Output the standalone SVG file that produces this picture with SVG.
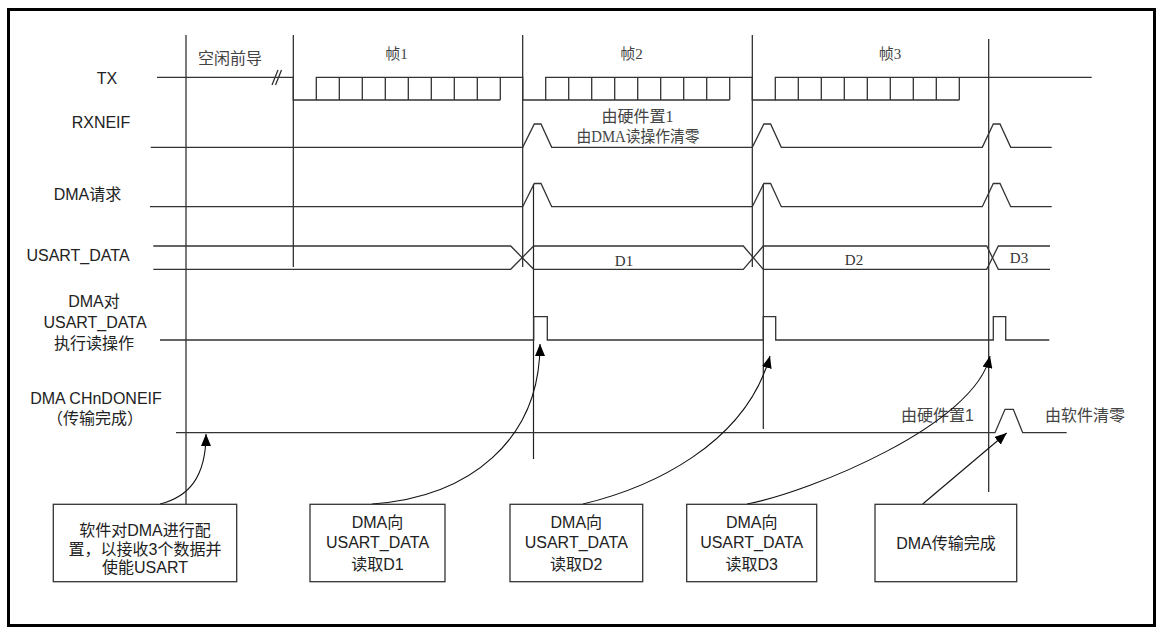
<svg xmlns="http://www.w3.org/2000/svg" width="1158" height="628" viewBox="0 0 1158 628">
<style>
.sig{fill:none;stroke:#333;stroke-width:1.3}
.grid{fill:none;stroke:#222;stroke-width:1.2}
.box{fill:#fff;stroke:#333;stroke-width:1.3}
.lbl{font-family:"Liberation Sans","Noto Sans CJK SC",sans-serif;font-size:16px;fill:#222;text-anchor:middle}
.ser{font-family:"Liberation Serif","Noto Sans CJK SC",serif;font-size:15px;fill:#444;text-anchor:middle}
.conn{fill:none;stroke:#111;stroke-width:1.1}
</style>
<defs>
<marker id="ah" viewBox="0 0 12 10" refX="12" refY="5" markerWidth="12" markerHeight="10" markerUnits="userSpaceOnUse" orient="auto">
<path d="M0,0 L12,5 L0,10 Z" fill="#000"/>
</marker>
</defs>
<rect x="0" y="0" width="1158" height="628" fill="#fff"/>
<rect id="frame" x="8.5" y="9.5" width="1146" height="616" fill="none" stroke="#000" stroke-width="3"/>

<g id="grid-lines">
<line class="grid" x1="186" y1="35" x2="186" y2="504"/>
<line class="grid" x1="293.3" y1="35" x2="293.3" y2="267"/>
<line class="grid" x1="522.7" y1="35" x2="522.7" y2="267"/>
<line class="grid" x1="533.5" y1="184" x2="533.5" y2="459"/>
<line class="grid" x1="752.3" y1="35" x2="752.3" y2="267"/>
<line class="grid" x1="763.3" y1="184" x2="763.3" y2="429"/>
<line class="grid" x1="988.7" y1="39" x2="988.7" y2="492"/>
</g>

<g id="top-labels">
<text class="lbl" x="230" y="64" style="fill:#444">空闲前导</text>
<text class="ser" x="396.5" y="59">帧1</text>
<text class="ser" x="631.5" y="59">帧2</text>
<text class="ser" x="890" y="59">帧3</text>
</g>

<g id="signal-labels">
<text class="lbl" x="107" y="84">TX</text>
<text class="lbl" x="101" y="128">RXNEIF</text>
<text class="lbl" x="87.5" y="200">DMA请求</text>
<text class="lbl" x="78" y="261">USART_DATA</text>
<text class="lbl" x="94" y="307">DMA对</text>
<text class="lbl" x="95" y="328">USART_DATA</text>
<text class="lbl" x="94" y="349">执行读操作</text>
<text class="lbl" x="96" y="404">DMA CHnDONEIF</text>
<text class="lbl" x="95" y="424">（传输完成）</text>
</g>

<g id="tx">
<path class="sig" d="M157,77.3 H293.3 V100 H316.3 V77.3 H522.7 V100 H545.7 V77.3 H752.3 V100 H775.3 V77.3 H1091.7"/>
<path class="sig" d="M316.3,100 H500.3 M339.3,77.3 V100 M362.3,77.3 V100 M385.3,77.3 V100 M408.3,77.3 V100 M431.3,77.3 V100 M454.3,77.3 V100 M477.3,77.3 V100 M500.3,77.3 V100"/>
<path class="sig" d="M545.7,100 H729.7 M568.7,77.3 V100 M591.7,77.3 V100 M614.7,77.3 V100 M637.7,77.3 V100 M660.7,77.3 V100 M683.7,77.3 V100 M706.7,77.3 V100 M729.7,77.3 V100"/>
<path class="sig" d="M775.3,100 H959.3 M798.3,77.3 V100 M821.3,77.3 V100 M844.3,77.3 V100 M867.3,77.3 V100 M890.3,77.3 V100 M913.3,77.3 V100 M936.3,77.3 V100 M959.3,77.3 V100"/>
<path class="sig" d="M272,85 L278,70 M275.5,85 L281.5,70"/>
</g>

<g id="rxneif">
<path class="sig" d="M150.7,147.3 H522.7 L534.3,124 H541 L551.7,147.3 H752.3 L763.9,124 H770.6 L781.3,147.3 H982.3 L993.3,124 H1000 L1010.7,147.3 H1051.7"/>
<text class="ser" x="637.5" y="122" style="font-size:16px">由硬件置1</text>
<text class="ser" x="638" y="142" style="font-size:16px" textLength="123" lengthAdjust="spacingAndGlyphs">由DMA读操作清零</text>
</g>

<g id="dma-request">
<path class="sig" d="M150,206.7 H522.7 L534.3,183.5 H541 L551.7,206.7 H752.3 L763.9,183.5 H770.6 L781.3,206.7 H982.3 L993.3,183.5 H1000 L1010.7,206.7 H1051.7"/>
</g>

<g id="usart-data">
<path class="sig" d="M153.3,246 H510.7 L533.7,269.3 H743.3 L763.3,246 H986.7 L998.3,269.3 H1050"/>
<path class="sig" d="M153.3,269.3 H510.7 L533.7,246 H743.3 L763.3,269.3 H986.7 L998.3,246 H1050"/>
<text class="ser" x="624" y="266" style="fill:#333">D1</text>
<text class="ser" x="854" y="265" style="fill:#333">D2</text>
<text class="ser" x="1019" y="263" style="fill:#333">D3</text>
</g>

<g id="dma-read">
<path class="sig" d="M160,340 H533.7 V316.7 H547.3 V340 H763.3 V316.7 H775.7 V340 H993.3 V316.7 H1005.7 V340 H1049.3"/>
</g>

<g id="chndoneif">
<path class="sig" d="M176,432.7 H995 L1005,409.3 H1013.3 L1022.7,432.7 H1066.7"/>
<text class="lbl" x="937.5" y="421" style="fill:#444">由硬件置1</text>
<text class="lbl" x="1085" y="421" style="fill:#444">由软件清零</text>
</g>

<g id="connectors">
<path class="conn" d="M160,504 C188,497 206,478 206,434" marker-end="url(#ah)"/>
<path class="conn" d="M372,504 C470,497 540,440 540,344" marker-end="url(#ah)"/>
<path class="conn" d="M583,504 C650,488 745,445 770,356" marker-end="url(#ah)"/>
<path class="conn" d="M747,504 C810,492 975,425 990,356" marker-end="url(#ah)"/>
<path class="conn" d="M922.7,504 L1006.7,433" marker-end="url(#ah)"/>
</g>

<g id="box-config">
<rect class="box" x="53.3" y="504.3" width="183.4" height="77.4"/>
<text class="lbl" x="145" y="536">软件对DMA进行配</text>
<text class="lbl" x="145" y="555">置，以接收3个数据并</text>
<text class="lbl" x="145" y="573">使能USART</text>
</g>
<g id="box-d1">
<rect class="box" x="310" y="504.3" width="135" height="77.4"/>
<text class="lbl" x="377.5" y="528">DMA向</text>
<text class="lbl" x="377.5" y="548">USART_DATA</text>
<text class="lbl" x="377.5" y="570">读取D1</text>
</g>
<g id="box-d2">
<rect class="box" x="510" y="504.3" width="132.7" height="77.4"/>
<text class="lbl" x="576.3" y="528">DMA向</text>
<text class="lbl" x="576.3" y="548">USART_DATA</text>
<text class="lbl" x="576.3" y="570">读取D2</text>
</g>
<g id="box-d3">
<rect class="box" x="686.7" y="504.3" width="130" height="77.4"/>
<text class="lbl" x="751.7" y="528">DMA向</text>
<text class="lbl" x="751.7" y="548">USART_DATA</text>
<text class="lbl" x="751.7" y="570">读取D3</text>
</g>
<g id="box-done">
<rect class="box" x="875" y="504.3" width="141.7" height="77.4"/>
<text class="lbl" x="946" y="549">DMA传输完成</text>
</g>
</svg>
